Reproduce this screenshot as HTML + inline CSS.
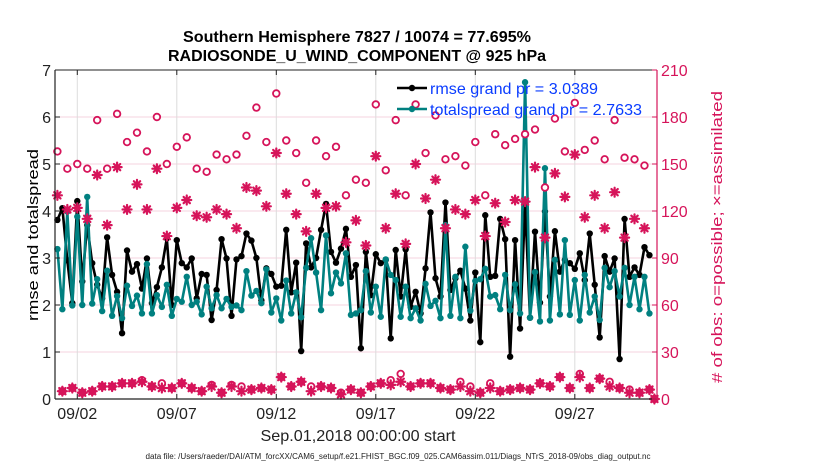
<!DOCTYPE html>
<html><head><meta charset="utf-8">
<style>
html,body{margin:0;padding:0;background:#fff;}
svg{display:block;font-family:"Liberation Sans",Arial,sans-serif;}
</style></head>
<body>
<svg id="chart" width="830" height="470" viewBox="0 0 830 470" xmlns="http://www.w3.org/2000/svg">
<rect x="0" y="0" width="830" height="470" fill="#fff"/>
<text x="357" y="42" text-anchor="middle" font-size="16" font-weight="bold" textLength="348" lengthAdjust="spacingAndGlyphs">Southern Hemisphere 7827 / 10074 = 77.695%</text>
<text x="357" y="61" text-anchor="middle" font-size="16" font-weight="bold" textLength="378" lengthAdjust="spacingAndGlyphs">RADIOSONDE_U_WIND_COMPONENT @ 925 hPa</text>
<g id="grid"></g>
<g id="series"></g>
<g id="axes"></g>
<g id="legend">
  <line x1="397" y1="88" x2="427" y2="88" stroke="#000" stroke-width="2.5"/>
  <circle cx="412" cy="88" r="3.2" fill="#000"/>
  <text x="430" y="94" font-size="16" fill="#0a3cff" textLength="168" lengthAdjust="spacingAndGlyphs">rmse grand pr = 3.0389</text>
  <line x1="397" y1="109" x2="427" y2="109" stroke="#008080" stroke-width="2.5"/>
  <circle cx="412" cy="109" r="3.2" fill="#008080"/>
  <text x="430" y="115" font-size="16" fill="#0a3cff" textLength="212" lengthAdjust="spacingAndGlyphs">totalspread grand pr = 2.7633</text>
</g>
<text transform="translate(38,235) rotate(-90)" text-anchor="middle" font-size="15" textLength="172" lengthAdjust="spacingAndGlyphs">rmse and totalspread</text>
<text transform="translate(722,237) rotate(-90)" text-anchor="middle" font-size="15" fill="#d6145a" textLength="292" lengthAdjust="spacingAndGlyphs"># of obs: o=possible; ×=assimilated</text>
<text x="358" y="441" text-anchor="middle" font-size="16" fill="#222" textLength="195" lengthAdjust="spacingAndGlyphs">Sep.01,2018 00:00:00 start</text>
<text x="398" y="459" text-anchor="middle" font-size="8" fill="#222" textLength="505" lengthAdjust="spacingAndGlyphs">data file: /Users/raeder/DAI/ATM_forcXX/CAM6_setup/f.e21.FHIST_BGC.f09_025.CAM6assim.011/Diags_NTrS_2018-09/obs_diag_output.nc</text>
</svg>
<script>
const rmse = [3.81,4.06,2.95,2.04,4.21,2.5,3.7,2.89,2.43,2.14,3.44,2.64,2.28,1.40,3.16,2.71,2.87,2.35,2.99,2.04,2.38,2.8,3.42,2.0,3.38,2.89,2.8,2.99,2.14,2.66,
2.64,1.68,2.32,3.4,2.99,1.77,2.97,3.04,3.52,3.37,3.0,2.1,2.78,2.66,2.39,2.41,3.6,2.27,2.9,1.02,3.31,2.8,3.0,3.6,4.15,3.13,2.9,3.2,3.62,2.6,
2.85,1.08,3.13,2.21,3.08,2.89,2.96,1.29,3.17,2.18,3.18,1.96,2.28,1.82,2.78,3.97,2.57,2.18,4.18,2.32,2.57,2.73,2.35,1.67,2.69,1.21,3.91,2.6,2.62,3.83,
3.4,0.9,3.38,1.5,4.15,1.73,3.56,2.05,3.99,2.18,3.57,2.71,2.96,2.89,2.77,3.1,2.53,3.52,2.43,1.31,3.04,2.71,2.99,0.85,3.83,2.6,2.8,2.64,3.23,3.06];
const spread = [3.19,1.91,3.99,1.99,3.88,2.0,4.3,2.03,2.55,1.87,2.73,1.77,2.19,1.72,2.41,1.98,2.2,1.82,2.87,1.82,2.21,1.96,2.43,1.77,2.13,2.07,2.6,2.0,2.07,1.8,
2.39,1.93,2.21,1.93,2.13,1.96,1.99,1.89,2.72,2.2,2.3,2.04,2.76,1.84,2.14,1.67,2.52,1.82,2.27,1.74,2.79,3.42,2.69,1.89,3.48,2.25,2.69,2.46,3.1,1.79,
1.82,1.89,2.72,1.84,2.39,1.75,2.97,2.64,2.53,1.75,2.39,1.72,1.93,1.67,2.45,1.98,2.09,1.72,3.7,1.77,2.6,1.72,3.24,1.88,2.51,2.55,2.77,2.18,2.21,1.91,
2.64,1.89,2.44,1.82,6.74,1.73,2.7,1.65,4.91,1.67,2.96,1.8,3.38,1.79,2.53,1.67,2.64,1.84,2.18,1.68,2.79,2.38,2.72,2.18,2.79,2.0,2.6,1.91,2.6,1.82];
const possible = [158,5,147,7,150,4,147,5,178,8,147,8,182,10,164,10,170,12,158,8,180,10,150,7,161,10,167,7,147,5,
145,9,156,4,153,9,156,8,168,6,186,7,164,6,195,14,165,8,157,11,138,8,165,8,155,7,161,4,130,6,
140,4,138,8,188,10,146,12,178,16,130,8,188,10,157,10,181,7,153,6,155,11,149,8,164,4,130,10,169,5,
162,6,166,7,169,6,172,10,135,8,179,14,158,7,189,16,159,7,165,13,153,11,178,7,154,6,153,4,149,6,0];
const assimilated = [130,5,121,7,122,4,115,5,143,8,111,8,148,10,121,10,137,11,121,8,147,7,104,7,122,10,127,7,117,5,
116,8,121,4,118,8,109,5,135,6,133,7,123,6,157,14,131,8,118,11,107,5,131,8,122,7,123,3,100,6,
114,4,98,8,155,10,109,9,131,11,99,8,150,10,128,10,140,7,109,6,121,8,118,5,127,4,104,7,125,5,
113,6,127,7,126,6,148,10,103,8,144,14,129,7,156,14,116,7,130,13,109,8,132,7,103,4,115,4,109,6,0];
const stepDays = 0.25;
const xTickDays = [1,6,11,16,21,26];
const xTickLabels = ["09/02","09/07","09/12","09/17","09/22","09/27"];
const yTicksLeft = [0,1,2,3,4,5,6,7];
const yTicksRight = [0,30,60,90,120,150,180,210];

const NS="http://www.w3.org/2000/svg";
const L=55,R=657,T=70,B=399;
const X0=-0.12,X1=30.13;
const x=d=>L+(d-X0)/(X1-X0)*(R-L);
const yl=v=>B-v/7*(B-T);
const yr=v=>B-v/210*(B-T);
const PINK="#d6145a",TEAL="#008080";
function mk(tag,attrs,parent){const e=document.createElementNS(NS,tag);for(const k in attrs)e.setAttribute(k,attrs[k]);parent.appendChild(e);return e;}
const grid=document.getElementById('grid'),ser=document.getElementById('series'),ax=document.getElementById('axes');

yTicksLeft.forEach(v=>{if(v>0&&v<7){const g=mk('line',{x1:L,x2:R,y1:yl(v),y2:yl(v),stroke:'#f6d3df','stroke-width':1},grid);

}});
xTickDays.forEach(d=>{const g=mk('line',{x1:x(d),x2:x(d),y1:T,y2:B,stroke:'#dcdcdc','stroke-width':1},grid);

});

function line(vals,color,name){
  const pts=vals.map((v,i)=>x(i*stepDays).toFixed(1)+','+yl(v).toFixed(1)).join(' ');
  const p=mk('polyline',{points:pts,fill:'none',stroke:color,'stroke-width':2.6,'stroke-linejoin':'round'},ser);
  
  
  vals.forEach((v,i)=>{const c=mk('circle',{cx:x(i*stepDays),cy:yl(v),r:3.2,fill:color},ser);
    
    });
}
line(rmse,'#000','rmse');
line(spread,TEAL,'totalspread');

possible.forEach((v,i)=>{const c=mk('circle',{cx:x(i*stepDays),cy:yr(v),r:3.3,fill:'#fff',stroke:PINK,'stroke-width':1.8},ser);
  
  });
assimilated.forEach((v,i)=>{const cx=x(i*stepDays),cy=yr(v),s=4.5;
  const g=mk('g',{stroke:PINK,'stroke-width':2.2,'stroke-linecap':'round'},ser);
  
  
  mk('line',{x1:cx-s,y1:cy,x2:cx+s,y2:cy},g);
  mk('line',{x1:cx,y1:cy-s,x2:cx,y2:cy+s},g);
  mk('line',{x1:cx-s*0.7,y1:cy-s*0.7,x2:cx+s*0.7,y2:cy+s*0.7},g);
  mk('line',{x1:cx-s*0.7,y1:cy+s*0.7,x2:cx+s*0.7,y2:cy-s*0.7},g);
});

// axes frame
let a=mk('line',{x1:L,x2:R,y1:T,y2:T,stroke:'#222','stroke-width':1},ax);


a=mk('line',{x1:L,x2:R,y1:B,y2:B,stroke:'#222','stroke-width':1.2},ax);


a=mk('line',{x1:L,x2:L,y1:T,y2:B,stroke:'#222','stroke-width':1.2},ax);


a=mk('line',{x1:R,x2:R,y1:T,y2:B,stroke:PINK,'stroke-width':1.2},ax);



yTicksLeft.forEach(v=>{
  mk('line',{x1:L,x2:L+5,y1:yl(v),y2:yl(v),stroke:'#222'},ax);
  const t=mk('text',{x:L-4,y:yl(v)+6,'text-anchor':'end','font-size':16,fill:'#222'},ax);t.textContent=v;
  
  
});
yTicksRight.forEach(v=>{
  mk('line',{x1:R-5,x2:R,y1:yr(v),y2:yr(v),stroke:PINK},ax);
  const t=mk('text',{x:R+4,y:yr(v)+6,'font-size':16,fill:PINK},ax);t.textContent=v;
  
  
});
xTickDays.forEach((d,i)=>{
  mk('line',{x1:x(d),x2:x(d),y1:B,y2:B-5,stroke:'#222'},ax);
  mk('line',{x1:x(d),x2:x(d),y1:T,y2:T+5,stroke:'#222'},ax);
  const t=mk('text',{x:x(d),y:419,'text-anchor':'middle','font-size':16,fill:'#222',textLength:40,lengthAdjust:'spacingAndGlyphs'},ax);t.textContent=xTickLabels[i];
  
  
});
</script>
</body></html>
